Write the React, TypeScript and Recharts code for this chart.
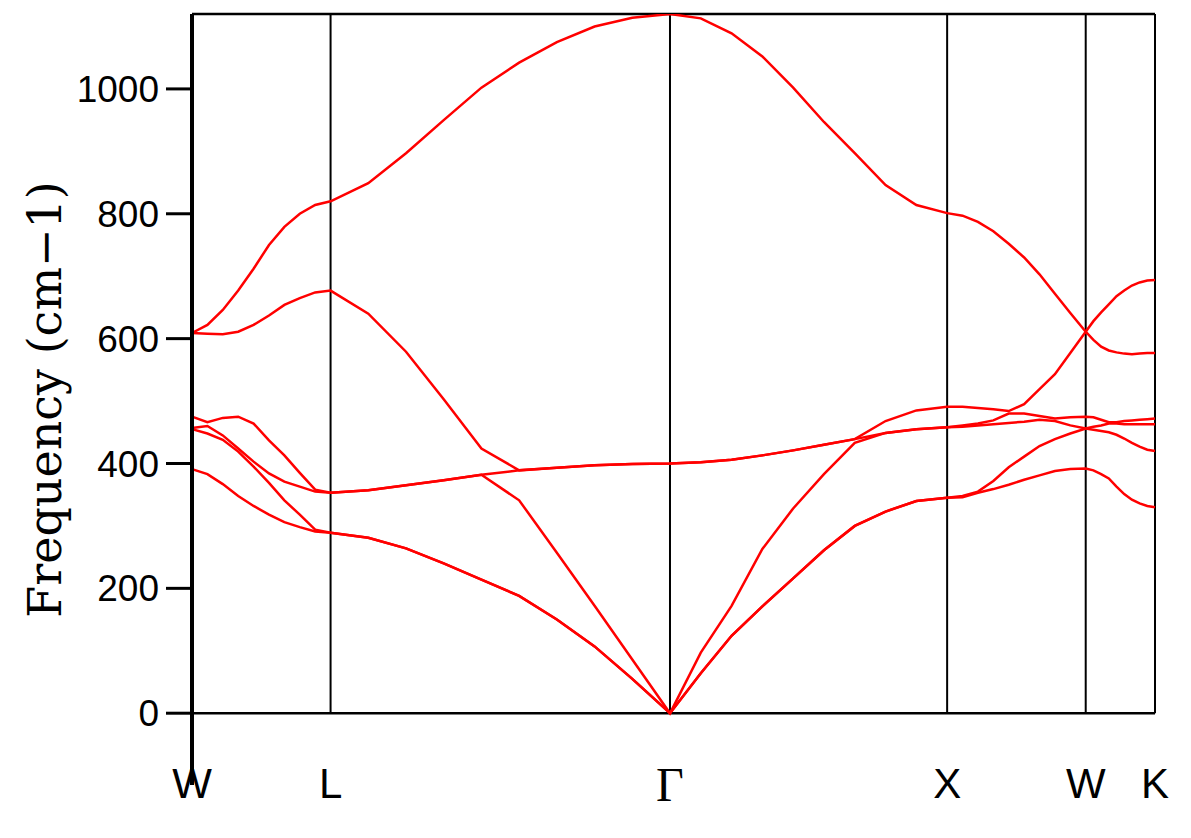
import React from 'react';
import { LineChart, Line, XAxis, YAxis, ReferenceLine, Label } from 'recharts';

// path coordinate (W-L-Γ-X-W-K), 9 intervals per segment
const kPath = [
  0, 0.0556, 0.1111, 0.1667, 0.2222, 0.2778, 0.3333, 0.3889, 0.4444, 0.5,
  0.6361, 0.7722, 0.9082, 1.0443, 1.1804, 1.3165, 1.4526, 1.5886, 1.7247,
  1.8358, 1.9469, 2.058, 2.1691, 2.2802, 2.3914, 2.5025, 2.6136, 2.7247,
  2.7803, 2.8358, 2.8914, 2.9469, 3.0025, 3.058, 3.1136, 3.1691, 3.2247,
  3.2525, 3.2803, 3.308, 3.3358, 3.3636, 3.3914, 3.4191, 3.4469, 3.4747,
];

const band1 = [
  391, 383, 367, 348, 332, 318, 306, 298, 291, 289,
  281, 264, 240, 214, 188, 150, 107, 55, 0,
  64, 124, 171, 216, 261, 300, 323, 340, 345,
  346, 353, 359, 366, 374, 381, 388, 391, 392,
  389, 383, 376, 363, 351, 342, 336, 332, 330,
];
const band2 = [
  455, 448, 438, 419, 395, 369, 341, 318, 294, 289,
  281, 264, 240, 214, 188, 150, 107, 55, 0,
  64, 124, 171, 216, 261, 300, 323, 340, 345,
  348, 355, 372, 394, 411, 428, 439, 448, 456,
  454, 452, 450, 446, 440, 433, 427, 422, 420,
];
const band3 = [
  457, 460, 445, 424, 403, 384, 371, 363, 355, 353,
  357, 365, 373, 382, 341, 257, 172, 86, 0,
  97, 172, 263, 328, 383, 433, 449, 455, 458,
  459, 461, 463, 465, 467, 470, 468, 461, 456,
  459, 461, 464, 464, 463, 463, 463, 463, 463,
];
const band4 = [
  475, 466, 473, 475, 464, 437, 413, 385, 358, 353,
  357, 365, 373, 382, 389, 393, 397, 399, 400,
  402, 406, 413, 421, 430, 439, 449, 455, 458,
  461, 464, 469, 480, 480, 476, 472, 474, 475,
  474, 470, 466, 466, 468, 469, 470, 471, 472,
];
const band5 = [
  609, 608, 607, 611, 622, 637, 654, 665, 674, 677,
  640, 579, 503, 424, 389, 393, 397, 399, 400,
  402, 406, 413, 421, 430, 439, 468, 485, 491,
  491, 489, 487, 484, 495, 519, 543, 577, 611,
  598, 587, 581, 578, 576, 575, 576, 577, 577,
];
const band6 = [
  609, 622, 646, 677, 712, 750, 779, 800, 814, 820,
  849, 897, 950, 1002, 1042, 1075, 1100, 1114, 1120,
  1113, 1089, 1052, 1002, 947, 897, 846, 814, 801,
  797, 787, 772, 752, 730, 703, 672, 641, 611,
  628, 642, 655, 668, 677, 685, 690, 693, 694,
];

const symK = [0, 0.5, 1.7247, 2.7247, 3.2247, 3.4747];
const symLabels = ['W', 'L', 'Γ', 'X', 'W', 'K'];
const freqTicks = [0, 200, 400, 600, 800, 1000];
const freqMin = -115;
const freqMax = 1120;
const bandKeys = ['b1', 'b2', 'b3', 'b4', 'b5', 'b6'];
const bands = [band1, band2, band3, band4, band5, band6];

const rows = kPath.map((k, i) => {
  const row: Record<string, number> = { k };
  bands.forEach((b, j) => {
    row[bandKeys[j]] = b[i];
  });
  return row;
});

const SymTick = (props: any) => {
  const { x, y, payload } = props;
  const i = symK.findIndex((v) => Math.abs(v - payload.value) < 1e-6);
  const label = i >= 0 ? symLabels[i] : '';
  const greek = label === 'Γ';
  return (
    <text
      x={x}
      y={y}
      dy={greek ? 16 : 13}
      textAnchor="middle"
      fill="#000"
      fontFamily={greek ? '"Liberation Serif", "Times New Roman", serif' : '"Liberation Sans", Arial, sans-serif'}
      fontSize={greek ? 48 : 42}
    >
      {label}
    </text>
  );
};

const YLabel = (props: any) => {
  const vb = props.viewBox || { x: 0, y: 14, width: 192, height: 771 };
  const cx = vb.x + 45;
  const cy = vb.y + vb.height / 2;
  return (
    <text
      x={cx}
      y={cy}
      transform={`rotate(-90 ${cx} ${cy})`}
      textAnchor="middle"
      dominantBaseline="central"
      fill="#000"
      fontFamily='"DejaVu Serif", serif'
      fontSize={46}
    >
      Frequency (cm−1)
    </text>
  );
};

export default function App() {
  return (
    <div style={{ position: 'absolute', left: 0, top: 0, width: 1191, height: 838, background: '#fff' }}>
      <LineChart width={1191} height={838} data={rows} margin={{ top: 14, right: 36, bottom: 0, left: 0 }}>
        <XAxis
          dataKey="k"
          type="number"
          domain={[0, symK[symK.length - 1]]}
          ticks={symK}
          interval={0}
          axisLine={false}
          tickLine={false}
          tickSize={0}
          tickMargin={0}
          height={53}
          tick={<SymTick />}
        />
        <YAxis
          type="number"
          domain={[freqMin, freqMax]}
          ticks={freqTicks}
          interval={0}
          allowDataOverflow
          width={192}
          axisLine={{ stroke: '#000', strokeWidth: 4 }}
          tickLine={{ stroke: '#000', strokeWidth: 3 }}
          tickSize={26}
          tickMargin={7}
          tick={{ fill: '#000', fontSize: 37, fontFamily: '"Liberation Sans", Arial, sans-serif' }}
        >
          <Label content={<YLabel />} />
        </YAxis>
        <ReferenceLine y={0} stroke="#000" strokeWidth={2.5} />
        <ReferenceLine
          segment={[
            { x: symK[0], y: freqMax },
            { x: symK[symK.length - 1], y: freqMax },
          ]}
          stroke="#000"
          strokeWidth={2.5}
        />
        {symK.slice(1).map((kv, i) => (
          <ReferenceLine
            key={'v' + i}
            segment={[
              { x: kv, y: 0 },
              { x: kv, y: freqMax },
            ]}
            stroke="#000"
            strokeWidth={2}
          />
        ))}
        {bandKeys.map((key) => (
          <Line
            key={key}
            dataKey={key}
            type="linear"
            stroke="#ff0000"
            strokeWidth={2.5}
            dot={false}
            activeDot={false}
            isAnimationActive={false}
          />
        ))}
      </LineChart>
    </div>
  );
}
